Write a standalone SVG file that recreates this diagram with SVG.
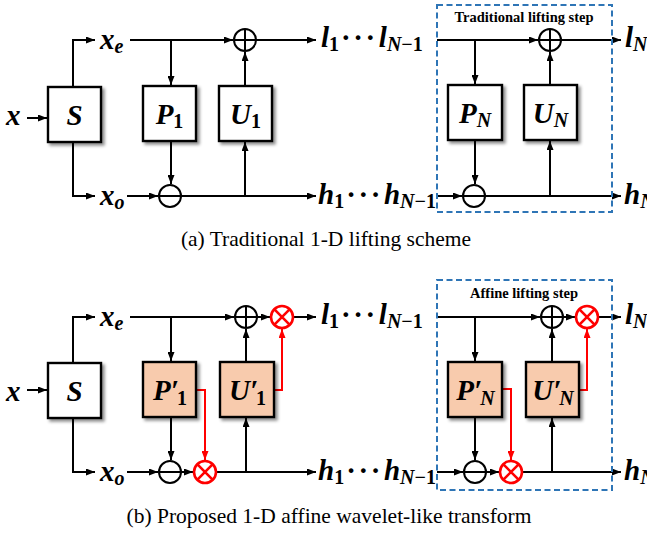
<svg xmlns="http://www.w3.org/2000/svg" width="647" height="533" viewBox="0 0 647 533">
<defs>
<marker id="ab" markerUnits="userSpaceOnUse" markerWidth="9" markerHeight="7" refX="9" refY="3.5" orient="auto"><path d="M0,0 L9,3.5 L0,7 z" fill="#000"/></marker>
<marker id="ar" markerUnits="userSpaceOnUse" markerWidth="9" markerHeight="7" refX="9" refY="3.5" orient="auto"><path d="M0,0 L9,3.5 L0,7 z" fill="#f00"/></marker>
<filter id="sh" x="-20%" y="-20%" width="150%" height="150%"><feDropShadow dx="2.5" dy="2.5" stdDeviation="1.5" flood-color="#000" flood-opacity="0.45"/></filter>
</defs>
<style>
.box{fill:#fff;stroke:#000;stroke-width:2.4;filter:url(#sh)}
.pbox{fill:#f8cbad;stroke:#000;stroke-width:2.4;filter:url(#sh)}
.ln{fill:none;stroke:#000;stroke-width:2;marker-end:url(#ab)}
.rl{fill:none;stroke:#f00;stroke-width:2;marker-end:url(#ar)}
.op{fill:#fff;stroke:#000;stroke-width:2}
.rop{fill:#fff;stroke:#f00;stroke-width:2.6}
.dash{fill:none;stroke:#2e75b6;stroke-width:2;stroke-dasharray:6,3.5}
.m{font-family:"Liberation Serif","Times New Roman","DejaVu Serif",serif;font-weight:bold;font-style:italic;font-size:29px;fill:#000}
.s{font-size:20px}
.d{font-style:normal}
.dots{letter-spacing:5px}
.ttl{font-family:"Liberation Serif","Times New Roman","DejaVu Serif",serif;font-weight:bold;font-size:14.5px;fill:#000}
.cap{font-family:"Liberation Serif","Times New Roman","DejaVu Serif",serif;font-size:21.5px;fill:#000}
</style>

<g id="connectors">
<path class="ln" d="M27,118 H47"/>
<path class="ln" d="M73,87 V40 H95"/>
<path class="ln" d="M73,142 V196 H95"/>
<path class="ln" d="M130,40 H233"/>
<path class="ln" d="M171,40 V85"/>
<path class="ln" d="M171,141 V184"/>
<path class="ln" d="M127,196 H158"/>
<path class="ln" d="M181,196 H316"/>
<path class="ln" d="M245,196 V142"/>
<path class="ln" d="M245,86 V52"/>
<path class="ln" d="M256,40 H316"/>
<path class="ln" d="M437,40 H538"/>
<path class="ln" d="M475,40 V84"/>
<path class="ln" d="M475,140 V184"/>
<path class="ln" d="M437,196 H462"/>
<path class="ln" d="M485,196 H621"/>
<path class="ln" d="M550,196 V141"/>
<path class="ln" d="M550,85 V52"/>
<path class="ln" d="M561,40 H621"/>
<path class="ln" d="M27,390 H47"/>
<path class="ln" d="M73,363 V317 H95"/>
<path class="ln" d="M73,418 V472 H95"/>
<path class="ln" d="M130,317 H234"/>
<path class="ln" d="M171,317 V361"/>
<path class="ln" d="M171,417 V460"/>
<path class="ln" d="M127,472 H158"/>
<path class="ln" d="M181,472 H193"/>
<path class="ln" d="M216,472 H316"/>
<path class="ln" d="M246,472 V418"/>
<path class="ln" d="M246,362 V329"/>
<path class="ln" d="M257,317 H270"/>
<path class="ln" d="M293,317 H316"/>
<path class="rl" d="M196,390 H205 V460"/>
<path class="rl" d="M274,390 H282 V329"/>
<path class="ln" d="M437,317 H540"/>
<path class="ln" d="M475,317 V361"/>
<path class="ln" d="M475,417 V460"/>
<path class="ln" d="M437,472 H463"/>
<path class="ln" d="M486,472 H499"/>
<path class="ln" d="M522,472 H621"/>
<path class="ln" d="M552,472 V418"/>
<path class="ln" d="M552,362 V329"/>
<path class="ln" d="M563,317 H575"/>
<path class="ln" d="M598,317 H621"/>
<path class="rl" d="M502,389 H511 V460"/>
<path class="rl" d="M579,390 H587 V329"/>
</g>

<g id="step-a"><rect class="dash" x="437" y="5" width="175" height="207"/><text class="ttl" x="524" y="22" text-anchor="middle">Traditional lifting step</text></g>
<g id="step-b"><rect class="dash" x="437" y="280" width="175" height="210"/><text class="ttl" x="524" y="298" text-anchor="middle">Affine lifting step</text></g>

<g id="lbl-a">
<text class="m" x="6" y="125">x</text>
<text class="m" x="100" y="49">x<tspan class="s" dy="4">e</tspan></text>
<text class="m" x="100" y="205">x<tspan class="s" dy="4">o</tspan></text>
<text class="m" x="321" y="47">l<tspan class="s d" dy="4">1</tspan><tspan class="dots" dx="3" dy="-4">···</tspan>l<tspan class="s" dy="4">N</tspan><tspan class="s d">−1</tspan></text>
<text class="m" x="318" y="204">h<tspan class="s d" dy="4">1</tspan><tspan class="dots" dx="3" dy="-4">···</tspan>h<tspan class="s" dy="4">N</tspan><tspan class="s d">−1</tspan></text>
<text class="m" x="625" y="47">l<tspan class="s" dy="4">N</tspan></text>
<text class="m" x="624" y="204">h<tspan class="s" dy="4">N</tspan></text>
</g>
<g id="lbl-b">
<text class="m" x="6" y="401">x</text>
<text class="m" x="100" y="326">x<tspan class="s" dy="4">e</tspan></text>
<text class="m" x="100" y="481">x<tspan class="s" dy="4">o</tspan></text>
<text class="m" x="321" y="324">l<tspan class="s d" dy="4">1</tspan><tspan class="dots" dx="3" dy="-4">···</tspan>l<tspan class="s" dy="4">N</tspan><tspan class="s d">−1</tspan></text>
<text class="m" x="318" y="480">h<tspan class="s d" dy="4">1</tspan><tspan class="dots" dx="3" dy="-4">···</tspan>h<tspan class="s" dy="4">N</tspan><tspan class="s d">−1</tspan></text>
<text class="m" x="625" y="324">l<tspan class="s" dy="4">N</tspan></text>
<text class="m" x="624" y="480">h<tspan class="s" dy="4">N</tspan></text>
</g>

<g id="S-a"><rect class="box" x="48" y="87" width="53" height="55"/><text class="m" x="74.5" y="125" text-anchor="middle">S</text></g>
<g id="P1"><rect class="box" x="143" y="86" width="53" height="55"/><text class="m" x="169.5" y="124" text-anchor="middle">P<tspan class="s d" dy="4">1</tspan></text></g>
<g id="U1"><rect class="box" x="219" y="86" width="53" height="55"/><text class="m" x="245.5" y="124" text-anchor="middle">U<tspan class="s d" dy="4">1</tspan></text></g>
<g id="PN"><rect class="box" x="448" y="85" width="54" height="55"/><text class="m" x="475" y="123" text-anchor="middle">P<tspan class="s" dy="4">N</tspan></text></g>
<g id="UN"><rect class="box" x="524" y="85" width="53" height="55"/><text class="m" x="550.5" y="123" text-anchor="middle">U<tspan class="s" dy="4">N</tspan></text></g>

<g id="S-b"><rect class="box" x="48" y="363" width="53" height="55"/><text class="m" x="74.5" y="401" text-anchor="middle">S</text></g>
<g id="P1p"><rect class="pbox" x="143" y="362" width="53" height="55"/><text class="m" x="170" y="400" text-anchor="middle">P′<tspan class="s d" dx="-2" dy="5">1</tspan></text></g>
<g id="U1p"><rect class="pbox" x="220" y="362" width="54" height="55"/><text class="m" x="247.5" y="400" text-anchor="middle">U′<tspan class="s d" dx="-2" dy="5">1</tspan></text></g>
<g id="PNp"><rect class="pbox" x="448" y="362" width="54" height="55"/><text class="m" x="475.5" y="400" text-anchor="middle">P′<tspan class="s" dx="-2" dy="5">N</tspan></text></g>
<g id="UNp"><rect class="pbox" x="526" y="362" width="53" height="55"/><text class="m" x="553" y="400" text-anchor="middle">U′<tspan class="s" dx="-2" dy="5">N</tspan></text></g>

<g id="add1-a"><circle class="op" cx="245" cy="40" r="11"/><path d="M234,40 H256 M245,29 V51" stroke="#000" stroke-width="2"/></g>
<g id="sub1-a"><circle class="op" cx="170" cy="196" r="11"/><path d="M159,196 H181" stroke="#000" stroke-width="2"/></g>
<g id="addN-a"><circle class="op" cx="550" cy="40" r="11"/><path d="M539,40 H561 M550,29 V51" stroke="#000" stroke-width="2"/></g>
<g id="subN-a"><circle class="op" cx="474" cy="196" r="11"/><path d="M463,196 H485" stroke="#000" stroke-width="2"/></g>

<g id="add1-b"><circle class="op" cx="246" cy="317" r="11"/><path d="M235,317 H257 M246,306 V328" stroke="#000" stroke-width="2"/></g>
<g id="sub1-b"><circle class="op" cx="170" cy="472" r="11"/><path d="M159,472 H181" stroke="#000" stroke-width="2"/></g>
<g id="mul1-b"><circle class="rop" cx="282" cy="317" r="11"/><path d="M274.2,309.2 L289.8,324.8 M289.8,309.2 L274.2,324.8" stroke="#f00" stroke-width="2.6"/></g>
<g id="mul2-b"><circle class="rop" cx="205" cy="472" r="11"/><path d="M197.2,464.2 L212.8,479.8 M212.8,464.2 L197.2,479.8" stroke="#f00" stroke-width="2.6"/></g>
<g id="addN-b"><circle class="op" cx="552" cy="317" r="11"/><path d="M541,317 H563 M552,306 V328" stroke="#000" stroke-width="2"/></g>
<g id="subN-b"><circle class="op" cx="475" cy="472" r="11"/><path d="M464,472 H486" stroke="#000" stroke-width="2"/></g>
<g id="mulN1-b"><circle class="rop" cx="587" cy="317" r="11"/><path d="M579.2,309.2 L594.8,324.8 M594.8,309.2 L579.2,324.8" stroke="#f00" stroke-width="2.6"/></g>
<g id="mulN2-b"><circle class="rop" cx="511" cy="472" r="11"/><path d="M503.2,464.2 L518.8,479.8 M518.8,464.2 L503.2,479.8" stroke="#f00" stroke-width="2.6"/></g>

<g id="captions">
<text class="cap" x="326" y="246" text-anchor="middle">(a) Traditional 1-D lifting scheme</text>
<text class="cap" x="329" y="523" text-anchor="middle">(b) Proposed 1-D affine wavelet-like transform</text>
</g>
</svg>
